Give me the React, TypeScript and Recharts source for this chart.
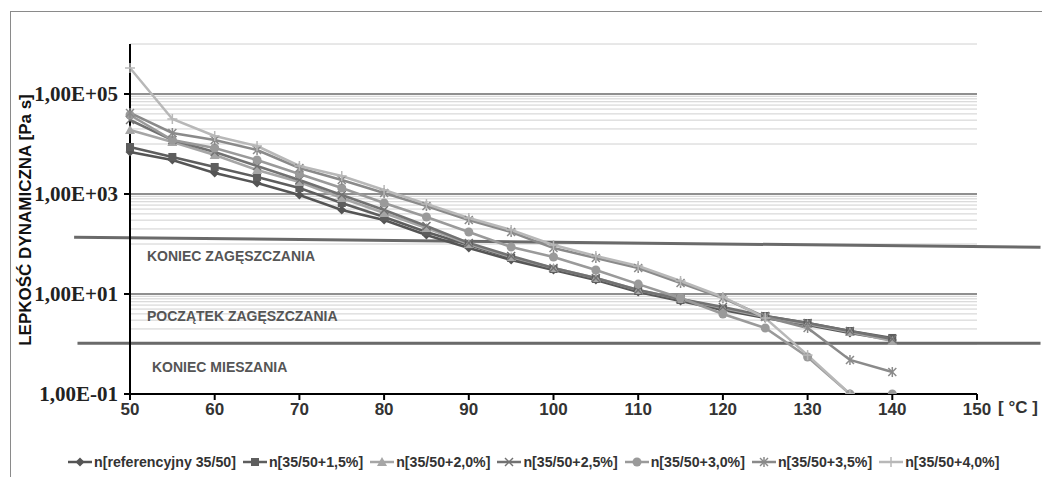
import { LineChart, Line, XAxis, YAxis, ReferenceLine } from 'recharts'

// temperatura [°C]
const temps = [50, 55, 60, 65, 70, 75, 80, 85, 90, 95, 100, 105, 110, 115, 120, 125, 130, 135, 140]

// lepkość dynamiczna [Pa s]
const nRef = [6900, 4800, 2630, 1660, 955, 479, 302, 151, 83, 48, 30.2, 19.1, 11.0, 7.24, 4.79, 3.31, 2.4, 1.66, 1.2]
const n15 = [8710, 5500, 3470, 2190, 1320, 661, 347, 174, 95.5, 52.5, 31.6, 20.0, 11.5, 7.59, 5.01, 3.63, 2.63, 1.82, 1.32]
const n20 = [19050, 10960, 6030, 3020, 1740, 832, 417, 209, 100, 55, 33.1, 20.9, 12.0, 7.94, 5.25, 3.47, 2.51, 1.74, 1.15]
const n25 = [30200, 12000, 6900, 3630, 1905, 955, 479, 229, 105, 57.5, 33.1, 20.9, 12.0, 7.94, 5.5, 3.63, 2.63, 1.82, 1.26]
const n30 = [38000, 12000, 8320, 4790, 2510, 1320, 661, 347, 174, 87, 55, 30.2, 15.8, 8.32, 3.98, 2.09, 0.55, 0.1, 0.1]
const n35 = [41700, 16600, 12000, 7590, 3310, 1905, 1050, 575, 302, 174, 83, 52.5, 33.1, 16.6, 8.32, 3.47, 2.09, 0.48, 0.275]
const n40 = [331000, 31600, 14500, 9120, 3630, 2290, 1200, 631, 331, 191, 95.5, 57.5, 36.3, 18.2, 8.71, 3.31, 0.6, 0.1, null]

const xTicks = [50, 60, 70, 80, 90, 100, 110, 120, 130, 140, 150]
const yTicks = [0.1, 10, 1000, 100000]
const majorGrid = [10, 1000, 100000]
const minorGrid = [
  1, 2, 3, 4, 5, 6, 7, 8, 9,
  100, 200, 300, 400, 500, 600, 700, 800, 900,
  10000, 20000, 30000, 40000, 50000, 60000, 70000, 80000, 90000,
  1000000,
]

type Kind = 'diamond' | 'square' | 'triangle' | 'x' | 'circle' | 'star' | 'plus'

const series: { key: string; name: string; values: (number | null)[]; color: string; kind: Kind }[] = [
  { key: 'ref', name: 'n[referencyjny 35/50]', values: nRef, color: '#555555', kind: 'diamond' },
  { key: 'p15', name: 'n[35/50+1,5%]', values: n15, color: '#5e5e5e', kind: 'square' },
  { key: 'p20', name: 'n[35/50+2,0%]', values: n20, color: '#a6a6a6', kind: 'triangle' },
  { key: 'p25', name: 'n[35/50+2,5%]', values: n25, color: '#727272', kind: 'x' },
  { key: 'p30', name: 'n[35/50+3,0%]', values: n30, color: '#9a9a9a', kind: 'circle' },
  { key: 'p35', name: 'n[35/50+3,5%]', values: n35, color: '#8a8a8a', kind: 'star' },
  { key: 'p40', name: 'n[35/50+4,0%]', values: n40, color: '#b8b8b8', kind: 'plus' },
]

const data = temps.map((t, i) => {
  const row: Record<string, number | null> = { t }
  series.forEach(s => { row[s.key] = s.values[i] })
  return row
})

function fmtExp(v: number) {
  const [m, e] = v.toExponential(2).split('e')
  const n = parseInt(e, 10)
  return `${m.replace('.', ',')}E${n < 0 ? '-' : '+'}${String(Math.abs(n)).padStart(2, '0')}`
}

function Marker({ cx, cy, kind, color }: { cx?: number; cy?: number; kind: Kind; color: string }) {
  if (cx == null || cy == null || Number.isNaN(cx) || Number.isNaN(cy)) return null
  const s = 4
  switch (kind) {
    case 'diamond':
      return <polygon points={`${cx},${cy - 4.5} ${cx + 4.5},${cy} ${cx},${cy + 4.5} ${cx - 4.5},${cy}`} fill={color} />
    case 'square':
      return <rect x={cx - s} y={cy - s} width={2 * s} height={2 * s} fill={color} />
    case 'triangle':
      return <polygon points={`${cx},${cy - 5} ${cx + 5},${cy + 4} ${cx - 5},${cy + 4}`} fill={color} />
    case 'circle':
      return <circle cx={cx} cy={cy} r={4.5} fill={color} />
    case 'x':
      return (
        <g stroke={color} strokeWidth={1.5}>
          <line x1={cx - s} y1={cy - s} x2={cx + s} y2={cy + s} />
          <line x1={cx - s} y1={cy + s} x2={cx + s} y2={cy - s} />
        </g>
      )
    case 'star':
      return (
        <g stroke={color} strokeWidth={1.5}>
          <line x1={cx - s} y1={cy - s} x2={cx + s} y2={cy + s} />
          <line x1={cx - s} y1={cy + s} x2={cx + s} y2={cy - s} />
          <line x1={cx} y1={cy - 5} x2={cx} y2={cy + 5} />
        </g>
      )
    default:
      return (
        <g stroke={color} strokeWidth={1.5}>
          <line x1={cx - 5} y1={cy} x2={cx + 5} y2={cy} />
          <line x1={cx} y1={cy - 5} x2={cx} y2={cy + 5} />
        </g>
      )
  }
}

const sans = '"Liberation Sans", Arial, sans-serif'
const serif = '"Liberation Serif", "Times New Roman", serif'

const noteStyle = {
  position: 'absolute' as const,
  fontFamily: sans,
  fontWeight: 700,
  fontSize: 14,
  lineHeight: '16px',
  color: '#555',
  whiteSpace: 'nowrap' as const,
}

export default function App() {
  return (
    <div style={{ position: 'absolute', left: 0, top: 0, width: 1042, height: 477, overflow: 'hidden', background: '#fff' }}>
      {/* ramka wykresu */}
      <div style={{ position: 'absolute', left: 10, top: 11, width: 1100, height: 520, border: '1.5px solid #8a8a8a' }} />

      <div style={{ position: 'absolute', left: 0, top: 0 }}>
        <LineChart width={1042} height={477} data={data} margin={{ top: 44, right: 65, bottom: 53, left: 0 }}>
          {minorGrid.map(v => (
            <ReferenceLine key={`mi-${v}`} y={v} stroke="#d0d0d0" strokeWidth={1} />
          ))}
          {majorGrid.map(v => (
            <ReferenceLine key={`ma-${v}`} y={v} stroke="#6a6a6a" strokeWidth={1.5} />
          ))}
          <XAxis
            dataKey="t" type="number" domain={[50, 150]} ticks={xTicks} height={30}
            axisLine={{ stroke: '#000', strokeWidth: 2 }} tickLine={{ stroke: '#000', strokeWidth: 2 }}
            tickSize={6} tickMargin={3}
            tick={{ fill: '#333', fontSize: 17, fontWeight: 700, fontFamily: sans }}
          />
          <YAxis
            scale="log" domain={[0.1, 1000000]} ticks={yTicks} width={130} allowDataOverflow
            tickFormatter={fmtExp}
            axisLine={{ stroke: '#000', strokeWidth: 2 }} tickLine={{ stroke: '#000', strokeWidth: 2 }}
            tickSize={6} tickMargin={6}
            tick={{ fill: '#222', fontSize: 21, fontWeight: 700, fontFamily: serif }}
          />
          {/* koniec zagęszczania / koniec mieszania */}
          <ReferenceLine segment={[{ x: 43.4, y: 137 }, { x: 157.5, y: 86 }]} ifOverflow="visible" stroke="#6a6a6a" strokeWidth={3} />
          <ReferenceLine segment={[{ x: 43.8, y: 1.03 }, { x: 157.5, y: 1.03 }]} ifOverflow="visible" stroke="#6a6a6a" strokeWidth={3} />
          {series.map(s => (
            <Line
              key={s.key} type="linear" dataKey={s.key} name={s.name} stroke={s.color} strokeWidth={2.5}
              isAnimationActive={false} connectNulls={false}
              dot={(p: { cx?: number; cy?: number; index?: number }) => (
                <Marker key={`${s.key}-${p.index}`} cx={p.cx} cy={p.cy} kind={s.kind} color={s.color} />
              )}
              activeDot={false}
            />
          ))}
        </LineChart>
      </div>

      <div style={{ ...noteStyle, left: 147, top: 248 }}>KONIEC ZAGĘSZCZANIA</div>
      <div style={{ ...noteStyle, left: 147, top: 308 }}>POCZĄTEK ZAGĘSZCZANIA</div>
      <div style={{ ...noteStyle, left: 152, top: 359 }}>KONIEC MIESZANIA</div>

      <div style={{ position: 'absolute', left: 998, top: 398, fontFamily: sans, fontWeight: 700, fontSize: 17, color: '#333', whiteSpace: 'nowrap' }}>
        [ °C ]
      </div>

      <div style={{
        position: 'absolute', left: 25.5 - 140, top: 220 - 11, width: 280, height: 22, lineHeight: '22px',
        transform: 'rotate(-90deg)', textAlign: 'center', fontFamily: sans, fontWeight: 700, fontSize: 17, color: '#111',
        whiteSpace: 'nowrap',
      }}>
        LEPKOŚĆ DYNAMICZNA [Pa s]
      </div>

      {/* legenda */}
      <div style={{ position: 'absolute', left: 67, top: 454, display: 'flex', alignItems: 'center', fontFamily: sans, fontWeight: 700, fontSize: 14.2, color: '#333', whiteSpace: 'nowrap' }}>
        {series.map(s => (
          <div key={s.key} style={{ display: 'flex', alignItems: 'center', marginRight: 6 }}>
            <svg width={26} height={14} style={{ marginRight: 1 }}>
              <line x1={1} y1={7} x2={25} y2={7} stroke={s.color} strokeWidth={2.5} />
              <Marker cx={13} cy={7} kind={s.kind} color={s.color} />
            </svg>
            <span>{s.name}</span>
          </div>
        ))}
      </div>
    </div>
  )
}
